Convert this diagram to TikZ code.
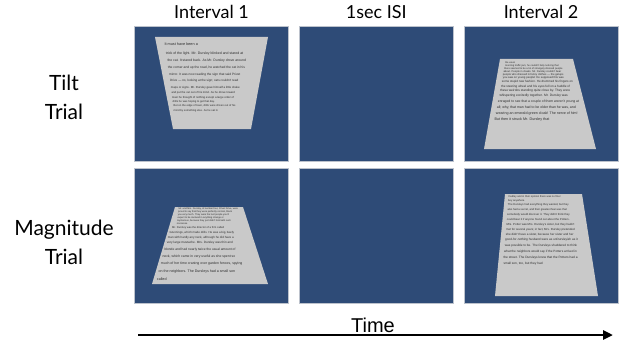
\documentclass[tikz,border=0pt]{standalone}
\usepackage{fontspec}
\setmainfont{Lato}
\newfontfamily\timefont{Liberation Sans}
\newfontfamily\pagefont{Liberation Sans}
\usetikzlibrary{positioning,arrows.meta}
\definecolor{slate}{RGB}{46,75,119}
\definecolor{rim}{RGB}{188,194,204}
\definecolor{paper}{RGB}{201,201,201}
\definecolor{ink}{RGB}{45,45,45}
\tikzset{
    panel/.style={
        rectangle, inner sep=0pt,
        minimum width=154pt, minimum height=135pt,
        fill=slate, draw=rim, line width=0.8pt
    },
    sheet/.style={
        fill=paper
    },
    header/.style={
        anchor=base, font=\fontsize{18}{18}\selectfont
    },
    rowlabel/.style={
        align=center, inner sep=0pt, font=\fontsize{21}{28.6}\selectfont
    },
    textline/.style={
        anchor=west, inner sep=0pt, text=ink
    },
    timeline/.style={
        line width=2.6pt,
        -{Triangle[length=10pt, width=9pt]}
    }
}

\begin{document}
\begin{tikzpicture}[x=1pt, y=-1pt]
    \useasboundingbox[fill=white] (0,0) rectangle (621,345);
    \node[panel] (tilt1) at (211.5,94) {};
    \node[panel, right=10pt of tilt1] (tilt2) {};
    \node[panel, right=10pt of tilt2] (tilt3) {};
    \node[panel, below=6pt of tilt1] (mag1) {};
    \node[panel, right=10pt of mag1] (mag2) {};
    \node[panel, right=10pt of mag2] (mag3) {};

    \node[header] (int1) at (tilt1.center |- 0,19) {Interval 1};
    \node[header] (isi) at (tilt2.center |- 0,19) {1sec ISI};
    \node[header] (int2) at (tilt3.center |- 0,19) {Interval 2};
    \node[rowlabel] (tiltlab) at (64,97.5) {Tilt\\Trial};
    \node[rowlabel] (maglab) at (64,242.5) {Magnitude\\Trial};

    % pages
    \fill[sheet] (155,37) -- (268,37) -- (251,129) -- (173,129) -- cycle;
    \fill[sheet] (500,59) -- (573,59) -- (596,149) -- (484,149) -- cycle;
    \fill[sheet] (175,207) -- (243,207) -- (268,284) -- (152,284) -- cycle;
    \fill[sheet] (505,194) -- (582,194) -- (598,296) -- (495,296) -- cycle;

    \foreach \x/\y/\s/\t [count=\i] in {
        164.3/44.3/3.8/{It must have been a},
        165.7/53.3/3.5/{trick of the light. Mr. Dursley blinked and stared at},
        167.3/60.7/3.4/{the cat. It stared back. As Mr. Dursley drove around},
        167.7/67.7/3.3/{the corner and up the road, he watched the cat in his},
        169/74.3/3.2/{mirror. It was now reading the sign that said Privet},
        170/81/3.1/{Drive — no, looking at the sign; cats couldn't read},
        170.7/87.7/2.9/{maps or signs. Mr. Dursley gave himself a little shake},
        171.3/92.7/2.8/{and put the cat out of his mind. As he drove toward},
        172/97.3/2.8/{town he thought of nothing except a large order of},
        172.5/101.7/2.7/{drills he was hoping to get that day.},
        173.3/106/2.7/{But on the edge of town, drills were driven out of his},
        173.5/110.7/2.7/{mind by something else. As he sat in}}
        \node[textline, font=\pagefont\fontsize{\s}{\s}\selectfont] (ta\i) at (\x,\y) {\t};

    \foreach \x/\y/\s/\t [count=\i] in {
        505/62.7/2.4/{the usual},
        505/65.7/2.5/{morning traffic jam, he couldn't help noticing that},
        504/68.7/2.5/{there seemed to be a lot of strangely dressed people},
        503.3/71.7/2.6/{about. People in cloaks. Mr. Dursley couldn't bear},
        502.7/74.7/2.7/{people who dressed in funny clothes — the getups},
        502.7/78/2.8/{you saw on young people! He supposed this was},
        501.7/82/3.0/{some stupid new fashion. He drummed his fingers on},
        501/86.7/3.1/{the steering wheel and his eyes fell on a huddle of},
        500/91/3.2/{these weirdos standing quite close by. They were},
        499.3/96/3.3/{whispering excitedly together. Mr. Dursley was},
        497.7/101.7/3.4/{enraged to see that a couple of them weren't young at},
        496.7/107.7/3.5/{all; why, that man had to be older than he was, and},
        495.7/113.3/3.6/{wearing an emerald-green cloak! The nerve of him!},
        494.3/119.3/3.7/{But then it struck Mr. Dursley that}}
        \node[textline, font=\pagefont\fontsize{\s}{\s}\selectfont] (tb\i) at (\x,\y) {\t};

    \foreach \x/\y/\s/\t [count=\i] in {
        178.3/209.3/2.4/{Mr. and Mrs. Dursley, of number four, Privet Drive, were},
        178/212.3/2.4/{proud to say that they were perfectly normal, thank},
        177.7/215.3/2.4/{you very much. They were the last people you'd},
        177.3/218.3/2.4/{expect to be involved in anything strange or},
        177/221.3/2.4/{mysterious, because they just didn't hold with such},
        176.7/224.3/2.4/{nonsense.},
        172/228.3/2.7/{Mr. Dursley was the director of a firm called},
        169.3/232.7/2.9/{Grunnings, which made drills. He was a big, beefy},
        167.7/237.3/3.0/{man with hardly any neck, although he did have a},
        166.7/242.3/3.1/{very large mustache. Mrs. Dursley was thin and},
        164.3/250/3.3/{blonde and had nearly twice the usual amount of},
        162.3/256.7/3.4/{neck, which came in very useful as she spent so},
        160.7/264/3.5/{much of her time craning over garden fences, spying},
        158.3/271.3/3.6/{on the neighbors. The Dursleys had a small son},
        156.7/278.7/3.7/{called}}
        \node[textline, font=\pagefont\fontsize{\s}{\s}\selectfont] (ma\i) at (\x,\y) {\t};

    \foreach \x/\y/\s/\t [count=\i] in {
        508.3/196.7/2.6/{Dudley and in their opinion there was no finer},
        508/200.7/2.6/{boy anywhere.},
        507.7/205.3/2.7/{The Dursleys had everything they wanted, but they},
        507.3/210/2.7/{also had a secret, and their greatest fear was that},
        507/215/2.8/{somebody would discover it. They didn't think they},
        506.7/219.7/2.8/{could bear it if anyone found out about the Potters.},
        506.3/224.3/2.9/{Mrs. Potter was Mrs. Dursley's sister, but they hadn't},
        506/229.3/2.9/{met for several years; in fact, Mrs. Dursley pretended},
        505.7/234.3/3.0/{she didn't have a sister, because her sister and her},
        505/240/3.1/{good-for-nothing husband were as unDursleyish as it},
        504.7/245.7/3.1/{was possible to be. The Dursleys shuddered to think},
        504/251.7/3.1/{what the neighbors would say if the Potters arrived in},
        503.3/257.7/3.2/{the street. The Dursleys knew that the Potters had a},
        503.3/264/3.2/{small son, too, but they had}}
        \node[textline, font=\pagefont\fontsize{\s}{\s}\selectfont] (mb\i) at (\x,\y) {\t};

    \coordinate (tstart) at (138,335);
    \coordinate (tend) at (613,335);
    \draw[timeline] (tstart) -- (tend);
    \node[anchor=base, font=\timefont\fontsize{20}{20}\selectfont] (timelab) at (373,332) {Time};
\end{tikzpicture}
\end{document}
